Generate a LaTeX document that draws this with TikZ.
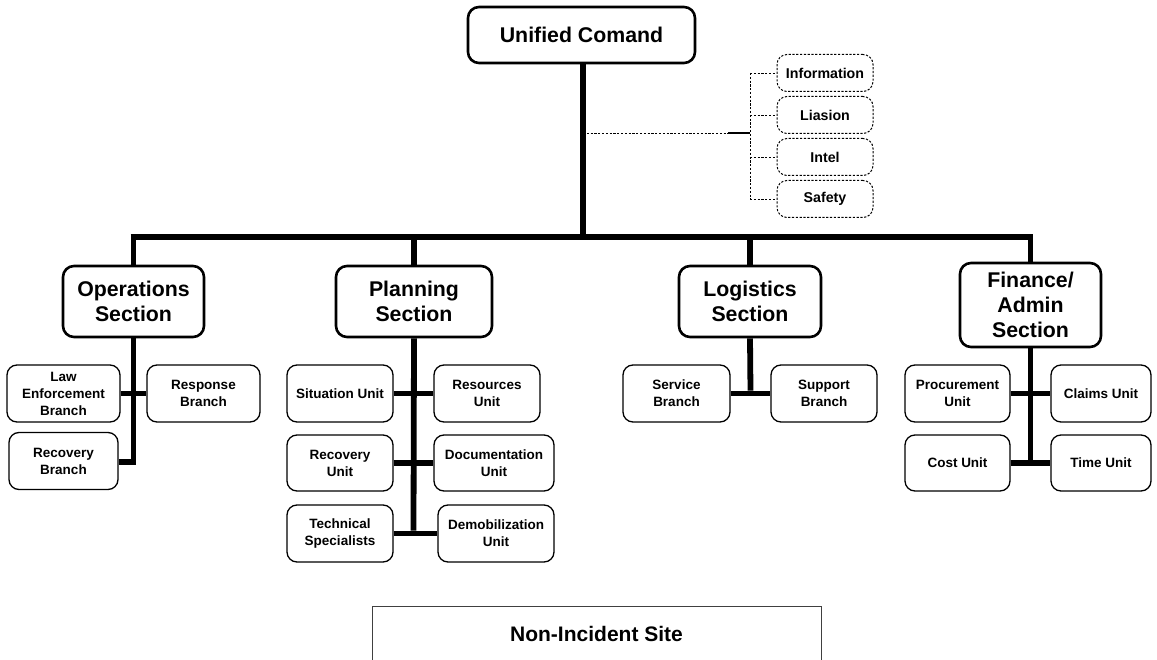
\documentclass[tikz,border=0pt]{standalone}
\usepackage{fontspec}
\setmainfont{Liberation Sans}
\begin{document}
\begin{tikzpicture}[x=1pt,y=-1pt,
  bigbox/.style={draw=black, line width=2.6pt, rounded corners=11pt, fill=white, inner sep=0pt, align=center, font=\fontsize{21.3}{25}\selectfont\bfseries},
  smallbox/.style={draw=black, line width=1.3pt, rounded corners=10pt, fill=white, inner sep=0pt, align=center, font=\fontsize{13.5}{17}\selectfont\bfseries},
  staffbox/.style={draw=black, line width=1pt, dash pattern=on 2.2pt off 1.6pt, rounded corners=10pt, fill=white, inner sep=0pt, align=center, font=\fontsize{14.2}{16}\selectfont\bfseries},
  bus/.style={line width=5.8pt, line cap=butt},
  thin/.style={line width=0.9pt, dash pattern=on 2.2pt off 1.6pt}
]
\useasboundingbox (0,0) rectangle (1157,660);

% Top
\node[bigbox, minimum width=227pt, minimum height=56pt] (uc) at (581.5,35) {Unified Comand};

% Staff boxes
\node[staffbox, minimum width=96pt, minimum height=37pt] (info) at (825,73) {Information};
\node[staffbox, minimum width=96pt, minimum height=37pt] (liai) at (825,115) {Liasion};
\node[staffbox, minimum width=96pt, minimum height=37pt] (intel) at (825,157) {Intel};
\node[staffbox, minimum width=96pt, minimum height=37pt] (safe) at (825,199) {Safety};
\coordinate (sT) at (750,73);
\coordinate (sB) at (750,199);
\coordinate (sM) at (750,133);
\coordinate (sK) at (728,133);
\coordinate (uM) at (583,133);

% Sections
\node[bigbox, minimum width=141pt, minimum height=71pt] (ops) at (133.5,301.5) {Operations\\Section};
\node[bigbox, minimum width=156pt, minimum height=71pt] (plan) at (414,301.5) {Planning\\Section};
\node[bigbox, minimum width=142pt, minimum height=71pt] (log) at (750,301.5) {Logistics\\Section};
\node[bigbox, minimum width=141pt, minimum height=84pt] (fin) at (1030.5,305) {Finance/\\Admin\\Section};

% Operations children
\node[smallbox, minimum width=113pt, minimum height=57pt] (law) at (63.5,393.5) {Law\\Enforcement\\Branch};
\node[smallbox, minimum width=113pt, minimum height=57pt] (resp) at (203.5,393.5) {Response\\Branch};
\node[smallbox, minimum width=109pt, minimum height=57pt] (recb) at (63.5,461) {Recovery\\Branch};

% Planning children
\node[smallbox, minimum width=106pt, minimum height=57pt] (sit) at (340,393.5) {Situation Unit};
\node[smallbox, minimum width=106pt, minimum height=57pt] (res) at (487,393.5) {Resources\\Unit};
\node[smallbox, minimum width=106pt, minimum height=56pt] (recu) at (340,463) {Recovery\\Unit};
\node[smallbox, minimum width=120pt, minimum height=56pt] (doc) at (494,463) {Documentation\\Unit};
\node[smallbox, minimum width=106pt, minimum height=57pt] (tech) at (340,533.5) {Technical\\Specialists};
\node[smallbox, minimum width=116pt, minimum height=57pt] (demob) at (496,533.5) {Demobilization\\Unit};

% Logistics children
\node[smallbox, minimum width=107pt, minimum height=57pt] (serv) at (676.5,393.5) {Service\\Branch};
\node[smallbox, minimum width=106pt, minimum height=57pt] (supp) at (824,393.5) {Support\\Branch};

% Finance children
\node[smallbox, minimum width=105pt, minimum height=57pt] (proc) at (957.5,393.5) {Procurement\\Unit};
\node[smallbox, minimum width=100pt, minimum height=57pt] (claim) at (1101,393.5) {Claims Unit};
\node[smallbox, minimum width=105pt, minimum height=56pt] (cost) at (957.5,463) {Cost Unit};
\node[smallbox, minimum width=100pt, minimum height=56pt] (time) at (1101,463) {Time Unit};

% Bus coordinates
\coordinate (busL) at (133.5,237);
\coordinate (busR) at (1030.5,237);
\coordinate (opsEnd) at (133.5,462);
\coordinate (planEnd) at (413.5,533.5);
\coordinate (logEnd) at (750.5,393.5);
\coordinate (finEnd) at (1030.5,463);

% Main connectors
\draw[bus] (uc.south -| uM) -- (uM |- busL);
\draw[bus] ([xshift=-2.9pt]busL) -- ([xshift=2.9pt]busR);
\draw[bus] (busL) -- (ops.north);
\draw[bus] (plan.north |- busL) -- (plan.north);
\draw[bus] (log.north |- busL) -- (log.north);
\draw[bus] (busR) -- (fin.north);

\draw[bus] (ops.south) -- ([yshift=2.9pt]opsEnd);
\draw[bus] (law.east) -- (resp.west);
\draw[bus] (recb.east |- opsEnd) -- ([xshift=2.9pt]opsEnd);

\draw[bus] (plan.south) -- ([yshift=2.9pt]planEnd);
\draw[bus] (sit.east) -- (res.west);
\draw[bus] (recu.east) -- (doc.west);
\draw[bus] (tech.east) -- (demob.west);

\draw[bus] (log.south) -- ([yshift=2.9pt]logEnd);
\draw[bus] (serv.east) -- (supp.west);

\draw[bus] (fin.south) -- ([yshift=2.9pt]finEnd);
\draw[bus] (proc.east) -- (claim.west);
\draw[bus] (cost.east) -- (time.west);

% Staff connectors
\draw[thin] (uM) -- (sK);
\draw[line width=1.3pt] (sK) -- (sM);
\draw[thin] (sT) -- (sB);
\draw[thin] (sT) -- (info.west);
\draw[thin] (sM |- liai.west) -- (liai.west);
\draw[thin] (sM |- intel.west) -- (intel.west);
\draw[thin] (sB) -- (safe.west);

% Non-incident site
\node[font=\fontsize{21}{24}\selectfont\bfseries, inner sep=0pt] (nis) at (596.5,634) {Non-Incident Site};
\coordinate (nisTL) at (372,606);
\coordinate (nisTR) at (821,606);
\draw[draw=black!75, line width=1pt] (372,662) -- (nisTL) -- (nisTR) -- (821,662);
\end{tikzpicture}
\end{document}
